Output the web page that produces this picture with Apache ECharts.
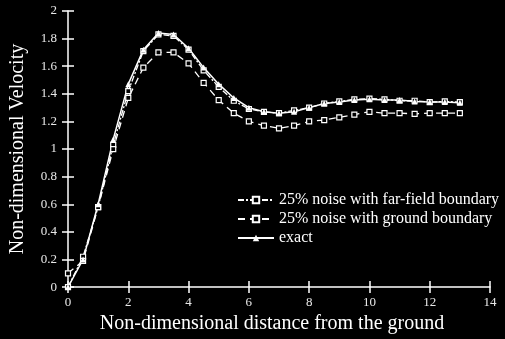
<!DOCTYPE html>
<html><head><meta charset="utf-8">
<script src="https://cdn.jsdelivr.net/npm/echarts@6/dist/echarts.min.js"></script>
<style>html,body{margin:0;padding:0;background:#000;}#c{width:505px;height:339px;}</style>
</head><body><div id="c"></div>
<script>
const xValues = [0,0.5,1,1.5,2,2.5,3,3.5,4,4.5,5,5.5,6,6.5,7,7.5,8,8.5,9,9.5,10,10.5,11,11.5,12,12.5,13];
const farField = [0,0.22,0.58,1.03,1.42,1.71,1.83,1.82,1.72,1.57,1.45,1.35,1.29,1.27,1.26,1.28,1.30,1.33,1.345,1.36,1.365,1.36,1.35,1.35,1.34,1.345,1.34];
const groundB = [0.1,0.19,0.58,1.0,1.37,1.59,1.70,1.70,1.62,1.48,1.355,1.26,1.20,1.17,1.15,1.17,1.20,1.21,1.23,1.25,1.27,1.26,1.26,1.255,1.26,1.26,1.26];
const exact = [0,0.2,0.6,1.07,1.47,1.72,1.84,1.83,1.73,1.59,1.47,1.37,1.30,1.27,1.26,1.27,1.30,1.33,1.34,1.355,1.36,1.355,1.355,1.345,1.34,1.34,1.335];
const seriesNames = ['25% noise with far-field boundary','25% noise with ground boundary','exact'];
const yTickLabels = {0:'0',0.2:'0.2',0.4:'0.4',0.6:'0.6',0.8:'0.8',1:'1',1.2:'1.2',1.4:'1.4',1.6:'1.6',1.8:'1.8',2:'2'};

const pair = arr => xValues.map((x,i)=>[x,arr[i]]);
const serif = '"Liberation Serif","DejaVu Serif",serif';
const white = '#ffffff';
const chart = echarts.init(document.getElementById('c'));
const baseX = {type:'value',min:0,max:14,interval:2};
const baseY = {type:'value',min:0,max:2,interval:0.2};
chart.setOption({
  backgroundColor:'#000',
  animation:false,
  grid:{left:68,right:15,top:11,bottom:48,containLabel:false},
  xAxis:[
    Object.assign({},baseX,{
      position:'bottom',
      name:'Non-dimensional distance from the ground',nameLocation:'middle',nameGap:26,
      nameTextStyle:{color:white,fontFamily:serif,fontSize:20,padding:[0,14,0,0]},
      axisLine:{lineStyle:{color:white,width:1.5}},
      axisTick:{length:6,lineStyle:{color:white,width:1.5}},
      axisLabel:{color:'#e8e8e8',fontFamily:serif,fontSize:13,margin:9},
      splitLine:{show:false}
    }),
    Object.assign({},baseX,{
      position:'bottom',
      axisLine:{show:false,onZero:false},axisTick:{show:true,inside:true,length:6,lineStyle:{color:white,width:1.5}},
      axisLabel:{show:false},splitLine:{show:false}
    })
  ],
  yAxis:[
    Object.assign({},baseY,{
      position:'left',
      name:'Non-dimensional Velocity',nameLocation:'middle',nameGap:40,
      nameTextStyle:{color:white,fontFamily:serif,fontSize:20},
      axisLine:{show:true,lineStyle:{color:white,width:1.5}},
      axisTick:{show:true,length:6,lineStyle:{color:white,width:1.5}},
      axisLabel:{color:'#e8e8e8',fontFamily:serif,fontSize:13,margin:11,
        formatter:v=>{const k=Math.round(v*10)/10;return yTickLabels[k]!==undefined?yTickLabels[k]:String(k);}},
      splitLine:{show:false}
    }),
    Object.assign({},baseY,{
      position:'left',
      axisLine:{show:false,onZero:false},axisTick:{show:true,inside:true,length:6,lineStyle:{color:white,width:1.5}},
      axisLabel:{show:false},splitLine:{show:false}
    })
  ],
  legend:{
    orient:'vertical',left:232,top:187,itemGap:3,itemWidth:36,itemHeight:8,
    textStyle:{color:white,fontFamily:serif,fontSize:16,lineHeight:15},
    data:seriesNames
  },
  series:[
    {name:seriesNames[0],type:'line',data:pair(farField),color:white,
     symbol:'rect',symbolSize:5,itemStyle:{color:'#000',borderColor:white,borderWidth:1.2},
     lineStyle:{color:white,width:1.3,type:[6,2,2,2]}},
    {name:seriesNames[1],type:'line',data:pair(groundB),color:white,
     symbol:'rect',symbolSize:5,itemStyle:{color:'#000',borderColor:white,borderWidth:1.2},
     lineStyle:{color:white,width:1.3,type:[7,5]}},
    {name:seriesNames[2],type:'line',data:pair(exact),color:white,
     symbol:'triangle',symbolSize:6,itemStyle:{color:white},
     lineStyle:{color:white,width:1.5}}
  ]
});
</script></body></html>
